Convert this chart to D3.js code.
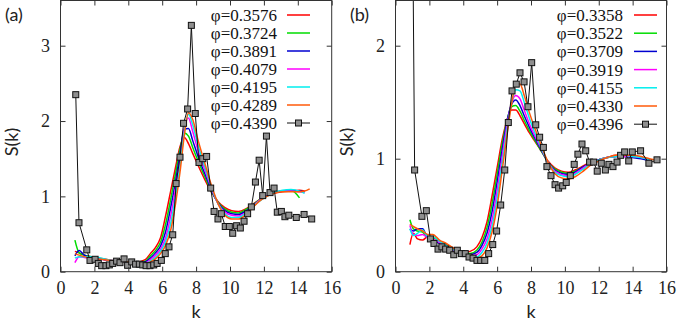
<!DOCTYPE html>
<html>
<head>
<meta charset="utf-8">
<script src="https://cdn.jsdelivr.net/npm/d3@7"></script>
<style>
  body { margin: 0; background: #fff; }
  .lbl { font-family: Lato, "Open Sans", sans-serif; font-size: 18px; fill: #222; }
  .key { font-family: "Liberation Serif", "DejaVu Serif", serif; font-size: 17px; fill: #111; }
  .tick text { font-family: "Liberation Serif", "DejaVu Serif", serif; font-size: 18px; fill: #222; }
</style>
</head>
<body>
<svg id="chart" width="698" height="323"></svg>
<script>
// ---- panel (a) data ----
const phiA = ['0.3576', '0.3724', '0.3891', '0.4079', '0.4195', '0.4289', '0.4390'];
const kGridA = [0.85, 1.1, 1.4, 1.8, 2.2, 2.6, 3.0, 3.5, 4.0, 4.5, 5.0, 5.3, 5.6, 5.9, 6.2, 6.5, 6.8, 7.05, 7.3, 7.55,
  7.8, 8.1, 8.5, 8.9, 9.3, 9.7, 10.1, 10.5, 10.9, 11.3, 11.7, 12.1, 12.6, 13.1, 13.6, 14.1, 14.4, 14.7];
const sA3576 = [0.27, 0.25, 0.22, 0.20, 0.18, 0.17, 0.15, 0.14, 0.13, 0.13, 0.16, 0.24, 0.32, 0.45, 0.74, 1.07, 1.40, 1.66, 1.78, 1.70,
  1.57, 1.42, 1.23, 1.06, 0.93, 0.85, 0.81, 0.80, 0.83, 0.89, 0.95, 1.00, 1.04, 1.06, 1.07, 1.08, 1.07, null];
const sA3724 = [0.42, 0.25, 0.22, 0.20, 0.18, 0.16, 0.15, 0.14, 0.13, 0.12, 0.14, 0.21, 0.28, 0.39, 0.63, 0.96, 1.32, 1.62, 1.84, 1.80,
  1.65, 1.48, 1.27, 1.07, 0.92, 0.83, 0.79, 0.78, 0.82, 0.88, 0.95, 1.00, 1.05, 1.07, 1.08, 0.98, null, null];
const sA3891 = [0.21, 0.28, 0.22, 0.19, 0.18, 0.16, 0.15, 0.14, 0.13, 0.12, 0.13, 0.18, 0.25, 0.34, 0.53, 0.85, 1.22, 1.56, 1.89, 1.90,
  1.74, 1.54, 1.31, 1.09, 0.91, 0.81, 0.77, 0.76, 0.80, 0.87, 0.94, 1.00, 1.05, 1.07, 1.08, 1.07, 1.06, null];
const sA4079 = [0.12, 0.20, 0.19, 0.18, 0.17, 0.16, 0.15, 0.14, 0.13, 0.12, 0.12, 0.16, 0.22, 0.30, 0.45, 0.74, 1.12, 1.48, 1.90, 2.04,
  1.86, 1.62, 1.36, 1.11, 0.90, 0.79, 0.75, 0.74, 0.78, 0.86, 0.94, 1.00, 1.05, 1.07, 1.07, 1.06, 1.05, null];
const sA4195 = [0.18, 0.20, 0.20, 0.20, 0.19, 0.17, 0.15, 0.14, 0.13, 0.12, 0.11, 0.14, 0.19, 0.27, 0.40, 0.64, 1.02, 1.40, 1.85, 2.09,
  1.95, 1.69, 1.40, 1.13, 0.90, 0.77, 0.72, 0.72, 0.77, 0.85, 0.93, 0.99, 1.05, 1.08, 1.09, 1.07, 1.04, null];
const sA4289 = [0.24, 0.22, 0.20, 0.18, 0.17, 0.16, 0.15, 0.14, 0.13, 0.12, 0.10, 0.13, 0.17, 0.24, 0.35, 0.55, 0.92, 1.32, 1.80, 2.11,
  2.02, 1.76, 1.45, 1.15, 0.90, 0.75, 0.70, 0.70, 0.75, 0.84, 0.93, 0.99, 1.04, 1.06, 1.06, 1.06, 1.07, 1.10];
const kBlackA = [0.90, 1.09, 1.55, 1.74, 2.04, 2.23, 2.43, 2.68, 2.88, 3.08, 3.31, 3.51, 3.75, 3.96, 4.20, 4.43, 4.65, 4.85, 5.05, 5.28,
  5.50, 5.70, 5.95, 6.18, 6.40, 6.62, 6.82, 7.05, 7.26, 7.50, 7.72, 7.95, 8.17, 8.39, 8.62, 8.86, 9.06, 9.29, 9.49, 9.72,
  9.96, 10.16, 10.39, 10.61, 10.83, 11.04, 11.26, 11.50, 11.72, 11.93, 12.15, 12.36, 12.60, 12.79, 13.03, 13.24, 13.47, 13.91, 14.37, 14.82];
const sBlackA = [2.35, 0.65, 0.29, 0.15, 0.165, 0.11, 0.08, 0.08, 0.09, 0.11, 0.14, 0.12, 0.17, 0.085, 0.13, 0.10, 0.10, 0.09, 0.08, 0.08,
  0.09, 0.11, 0.15, 0.24, 0.33, 0.49, 1.17, 1.52, 1.97, 2.16, 3.27, 2.10, 1.45, 1.50, 1.53, 1.11, 0.80, 0.70, 0.77, 0.60,
  0.60, 0.51, 0.61, 0.58, 0.67, 0.77, 0.86, 1.19, 1.48, 1.01, 1.80, 1.05, 1.11, 0.79, 0.80, 0.73, 0.75, 0.72, 0.76, 0.70];

// ---- panel (b) data ----
const phiB = ['0.3358', '0.3522', '0.3709', '0.3919', '0.4155', '0.4330', '0.4396'];
const kGridB = [0.85, 1.05, 1.3, 1.6, 1.9, 2.2, 2.6, 3.0, 3.5, 4.0, 4.4, 4.8, 5.1, 5.4, 5.7, 6.0, 6.3, 6.6, 6.85, 7.1,
  7.35, 7.6, 7.9, 8.2, 8.6, 9.0, 9.4, 9.8, 10.2, 10.6, 11.0, 11.5, 12.0, 12.5, 13.0, 13.5, 14.0, 14.5, 15.0, 15.3];
const sB3358 = [0.24, 0.34, 0.29, 0.28, 0.31, 0.31, 0.27, 0.24, 0.20, 0.17, 0.18, 0.22, 0.30, 0.44, 0.67, 0.92, 1.17, 1.35, 1.43, 1.43,
  1.38, 1.31, 1.23, 1.16, 1.07, 0.98, 0.92, 0.89, 0.88, 0.90, 0.93, 0.97, 0.99, 1.01, 1.03, 1.03, 1.02, 1.01, 0.99, null];
const sB3522 = [0.46, 0.38, 0.36, 0.35, 0.30, 0.30, 0.27, 0.23, 0.19, 0.16, 0.16, 0.19, 0.26, 0.39, 0.60, 0.86, 1.13, 1.35, 1.46, 1.47,
  1.42, 1.34, 1.25, 1.17, 1.07, 0.97, 0.91, 0.88, 0.87, 0.89, 0.92, 0.96, 0.99, 1.01, 1.02, 1.03, 1.02, 1.01, 0.99, null];
const sB3709 = [0.38, 0.36, 0.38, 0.38, 0.30, 0.28, 0.25, 0.22, 0.18, 0.16, 0.15, 0.17, 0.23, 0.34, 0.53, 0.79, 1.08, 1.34, 1.48, 1.52,
  1.47, 1.38, 1.28, 1.19, 1.08, 0.97, 0.90, 0.87, 0.86, 0.88, 0.92, 0.96, 0.99, 1.01, 1.02, 1.02, 1.01, 1.00, 0.98, null];
const sB3919 = [0.41, 0.33, 0.32, 0.33, 0.30, 0.29, 0.26, 0.22, 0.18, 0.16, 0.14, 0.15, 0.20, 0.29, 0.46, 0.72, 1.02, 1.31, 1.49, 1.56,
  1.53, 1.43, 1.31, 1.21, 1.09, 0.97, 0.89, 0.86, 0.85, 0.87, 0.91, 0.96, 0.99, 1.01, 1.02, 1.02, 1.02, 1.01, 0.99, null];
const sB4155 = [0.38, 0.32, 0.34, 0.37, 0.31, 0.31, 0.27, 0.23, 0.19, 0.16, 0.14, 0.13, 0.17, 0.25, 0.40, 0.65, 0.96, 1.27, 1.49, 1.61,
  1.60, 1.50, 1.36, 1.24, 1.10, 0.97, 0.88, 0.85, 0.84, 0.86, 0.90, 0.95, 0.99, 1.01, 1.02, 1.03, 1.02, 1.01, 0.99, null];
const sB4330 = [0.42, 0.40, 0.38, 0.36, 0.33, 0.33, 0.28, 0.25, 0.20, 0.16, 0.14, 0.12, 0.14, 0.21, 0.35, 0.58, 0.90, 1.23, 1.48, 1.66,
  1.66, 1.56, 1.41, 1.28, 1.12, 0.97, 0.87, 0.83, 0.82, 0.84, 0.88, 0.94, 0.98, 1.01, 1.03, 1.03, 1.03, 1.02, 1.00, 0.99];
const kBlackB = [0.90, 1.13, 1.56, 1.82, 2.06, 2.27, 2.51, 2.74, 2.96, 3.20, 3.44, 3.65, 3.89, 4.12, 4.34, 4.58, 4.81, 5.03, 5.27, 5.50,
  5.74, 5.97, 6.21, 6.45, 6.66, 6.88, 7.13, 7.35, 7.59, 7.82, 8.04, 8.28, 8.51, 8.73, 8.94, 9.18, 9.42, 9.63, 9.87, 10.08,
  10.32, 10.55, 10.77, 11.01, 11.23, 11.46, 11.70, 11.91, 12.15, 12.39, 12.60, 12.84, 13.08, 13.29, 13.53, 13.77, 13.98, 14.47, 14.96, 15.44];
const sBlackB = [5.2, 0.90, 0.49, 0.54, 0.29, 0.25, 0.20, 0.22, 0.20, 0.19, 0.15, 0.19, 0.16, 0.16, 0.13, 0.12, 0.10, 0.10, 0.10, 0.16,
  0.24, 0.36, 0.59, 0.90, 1.32, 1.60, 1.66, 1.76, 1.68, 1.46, 1.85, 1.30, 1.19, 1.10, 0.93, 0.85, 0.77, 0.74, 0.76, 0.79,
  0.85, 0.95, 1.04, 1.13, 1.07, 0.97, 0.97, 0.89, 0.96, 0.90, 0.95, 0.93, 0.97, 1.03, 1.06, 0.98, 1.06, 1.07, 0.96, 0.99];

const xTicks = [0, 2, 4, 6, 8, 10, 12, 14, 16];
const lineColors = ['#ff0000', '#00dd00', '#0000d0', '#ff00ff', '#00eeee', '#ff5a0a'];

const svg = d3.select('#chart');

// Draws one framed panel with its curves, axes and key
function drawPanel(cfg) {
  const top = 0.5, bottom = 271.7;
  const x = d3.scaleLinear().domain([0, 16]).range([cfg.left, cfg.right]);
  const y = d3.scaleLinear().domain([0, cfg.ymax]).range([bottom, top]);
  const g = svg.append('g');

  g.append('clipPath').attr('id', cfg.id + '-clip').
  append('rect').
  attr('x', cfg.left).attr('y', top).
  attr('width', cfg.right - cfg.left).attr('height', bottom - top);

  const plot = g.append('g').attr('clip-path', 'url(#' + cfg.id + '-clip)');

  // Smooth colored curves
  const line = d3.line().
  defined(d => d[1] != null).
  x(d => x(d[0])).
  y(d => y(d[1])).
  curve(d3.curveMonotoneX);

  cfg.series.forEach((s, i) => {
    plot.append('path').
    datum(cfg.kGrid.map((k, j) => [k, s[j]])).
    attr('fill', 'none').
    attr('stroke', lineColors[i]).
    attr('stroke-width', 1.5).
    attr('d', line);
  });

  // Black line with square markers
  const black = cfg.kBlack.map((k, j) => [k, cfg.sBlack[j]]);
  plot.append('path').
  datum(black).
  attr('fill', 'none').
  attr('stroke', '#111').
  attr('stroke-width', 1).
  attr('d', d3.line().x(d => x(d[0])).y(d => y(d[1])));

  plot.selectAll('rect.mk').
  data(black).
  enter().
  append('rect').
  attr('class', 'mk').
  attr('x', d => x(d[0]) - 3).
  attr('y', d => y(d[1]) - 3).
  attr('width', 6).attr('height', 6).
  attr('fill', '#8f8f8f').
  attr('stroke', '#111').
  attr('stroke-width', 1);

  // Axes with inward ticks on all four sides
  const styleAxis = a => {
    a.select('.domain').remove();
    a.selectAll('line').attr('stroke', '#333');
  };
  const fmt = d3.format('d');
  g.append('g').attr('transform', 'translate(0,' + bottom + ')').
  call(d3.axisBottom(x).tickValues(xTicks).tickFormat(fmt).tickSizeInner(-5).tickSizeOuter(0).tickPadding(10)).
  call(styleAxis);
  g.append('g').attr('transform', 'translate(0,' + top + ')').
  call(d3.axisTop(x).tickValues(xTicks).tickSizeInner(-5).tickSizeOuter(0).tickFormat('')).
  call(styleAxis);
  g.append('g').attr('transform', 'translate(' + cfg.left + ',0)').
  call(d3.axisLeft(y).tickValues(cfg.yTicks).tickFormat(fmt).tickSizeInner(-5).tickSizeOuter(0).tickPadding(10.5)).
  call(styleAxis);
  g.append('g').attr('transform', 'translate(' + cfg.right + ',0)').
  call(d3.axisRight(y).tickValues(cfg.yTicks).tickSizeInner(-5).tickSizeOuter(0).tickFormat('')).
  call(styleAxis);

  g.append('rect').
  attr('x', cfg.left).attr('y', top).
  attr('width', cfg.right - cfg.left).attr('height', bottom - top).
  attr('fill', 'none').attr('stroke', '#333').attr('stroke-width', 1);

  // Key
  const key = g.append('g');
  cfg.phi.forEach((p, i) => {
    const ky = 15 + i * cfg.keyStep;
    key.append('text').
    attr('class', 'key').
    attr('x', cfg.keyText).attr('y', ky).attr('dy', '0.35em').
    attr('text-anchor', 'end').
    text('\u03c6=' + p);
    key.append('line').
    attr('x1', cfg.keyLine).attr('x2', cfg.keyLine + 23).
    attr('y1', ky).attr('y2', ky).
    attr('stroke', i < 6 ? lineColors[i] : '#111').
    attr('stroke-width', i < 6 ? 1.5 : 1);
    if (i === 6) {
      key.append('rect').
      attr('x', cfg.keyLine + 8.5).attr('y', ky - 3).
      attr('width', 6).attr('height', 6).
      attr('fill', '#8f8f8f').attr('stroke', '#111');
    }
  });

  // Axis titles and panel tag
  g.append('text').attr('class', 'lbl').
  attr('x', (cfg.left + cfg.right) / 2).attr('y', 318).
  attr('text-anchor', 'middle').text('k');
  g.append('text').attr('class', 'lbl').
  attr('transform', 'translate(' + (cfg.left - 43) + ',142) rotate(-90)').
  attr('text-anchor', 'middle').text('S(k)');
  g.append('text').attr('class', 'lbl').
  attr('x', cfg.tagX).attr('y', 21).text(cfg.tag);
}

drawPanel({
  id: 'pa', left: 60.5, right: 331.7, ymax: 3.6, yTicks: [0, 1, 2, 3],
  kGrid: kGridA, series: [sA3576, sA3724, sA3891, sA4079, sA4195, sA4289],
  kBlack: kBlackA, sBlack: sBlackA, phi: phiA,
  keyText: 277, keyLine: 287, keyStep: 18, tag: '(a)', tagX: 5
});

drawPanel({
  id: 'pb', left: 395.5, right: 666.5, ymax: 2.4, yTicks: [0, 1, 2],
  kGrid: kGridB, series: [sB3358, sB3522, sB3709, sB3919, sB4155, sB4330],
  kBlack: kBlackB, sBlack: sBlackB, phi: phiB,
  keyText: 623, keyLine: 634, keyStep: 18.2, tag: '(b)', tagX: 350
});
</script>
</body>
</html>
